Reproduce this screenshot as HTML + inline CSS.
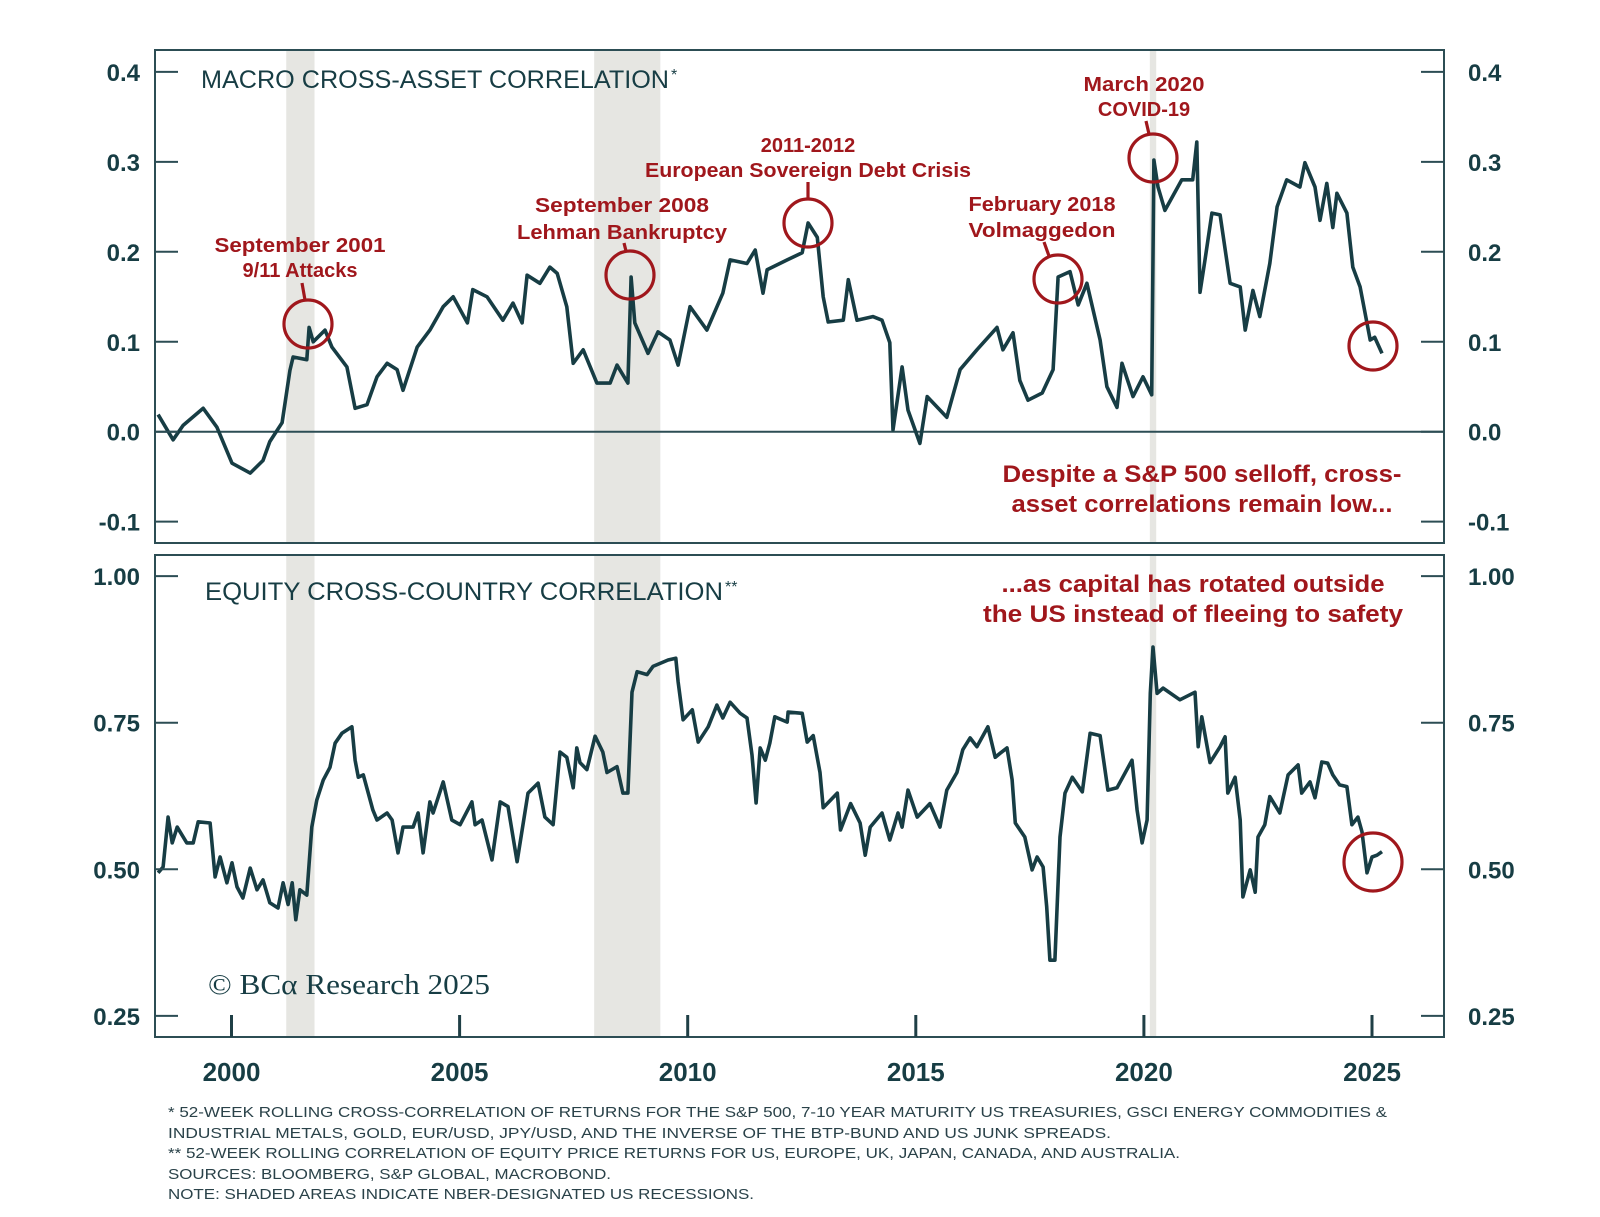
<!DOCTYPE html>
<html><head><meta charset="utf-8"><style>
html,body{margin:0;padding:0;background:#fff;}
svg{display:block;font-family:"Liberation Sans",sans-serif;}
</style></head><body>
<svg id="chart" width="1600" height="1217" viewBox="0 0 1600 1217" xmlns="http://www.w3.org/2000/svg">
<g id="layer-bg"></g>
<g id="layer-lines"></g>
<g id="layer-frame"></g>
<g id="layer-text"></g>
</svg>
<script>
// ---- data ----
const recessionStarts = [2001.2, 2007.95, 2020.13];
const recessionEnds = [2001.82, 2009.4, 2020.27];
const topYears = [1998.39,1998.72,1998.94,1999.38,1999.68,2000.01,2000.41,2000.69,2000.84,2001.11,2001.28,2001.35,2001.65,2001.70,2001.79,2002.05,2002.20,2002.53,2002.71,2002.97,2003.19,2003.41,2003.63,2003.76,2004.07,2004.35,2004.64,2004.86,2005.17,2005.29,2005.60,2005.95,2006.17,2006.37,2006.48,2006.76,2006.98,2007.14,2007.35,2007.49,2007.71,2008.01,2008.30,2008.45,2008.69,2008.76,2008.84,2009.13,2009.35,2009.61,2009.79,2010.05,2010.42,2010.77,2010.93,2011.30,2011.48,2011.65,2011.74,2012.18,2012.51,2012.64,2012.84,2012.97,2013.08,2013.41,2013.52,2013.71,2014.06,2014.26,2014.43,2014.50,2014.70,2014.83,2015.09,2015.25,2015.68,2015.97,2016.34,2016.78,2016.91,2017.13,2017.28,2017.46,2017.77,2018.01,2018.12,2018.38,2018.56,2018.75,2019.04,2019.19,2019.41,2019.52,2019.76,2019.98,2020.17,2020.22,2020.31,2020.46,2020.83,2021.07,2021.16,2021.23,2021.34,2021.49,2021.67,2021.89,2022.11,2022.22,2022.39,2022.54,2022.76,2022.92,2023.13,2023.42,2023.53,2023.75,2023.86,2024.01,2024.14,2024.23,2024.45,2024.58,2024.74,2024.96,2025.06,2025.22];
const topValues = [.019,-.009,.007,.026,.005,-.035,-.046,-.032,-.011,.010,.068,.083,.080,.116,.100,.113,.094,.072,.026,.030,.061,.076,.069,.046,.094,.113,.139,.150,.121,.158,.150,.124,.143,.121,.174,.165,.183,.176,.139,.076,.091,.054,.054,.074,.054,.172,.121,.087,.111,.102,.074,.139,.113,.154,.191,.187,.202,.154,.180,.191,.199,.232,.216,.150,.122,.124,.169,.124,.128,.124,.099,.002,.072,.024,-.013,.039,.016,.069,.091,.116,.091,.110,.057,.035,.043,.069,.172,.178,.141,.165,.102,.050,.027,.076,.039,.061,.041,.302,.272,.246,.280,.280,.322,.155,.191,.243,.241,.165,.161,.113,.157,.128,.187,.250,.280,.272,.299,.272,.235,.276,.227,.265,.243,.183,.161,.102,.105,.087];
const bottomYears = [1998.39,1998.50,1998.61,1998.70,1998.81,1999.02,1999.16,1999.27,1999.53,1999.64,1999.75,1999.90,2000.01,2000.12,2000.25,2000.41,2000.56,2000.69,2000.84,2001.02,2001.13,2001.24,2001.33,2001.41,2001.50,2001.65,2001.76,2001.87,2002.01,2002.16,2002.27,2002.42,2002.64,2002.71,2002.78,2002.89,2003.10,2003.19,2003.41,2003.52,2003.65,2003.76,2003.98,2004.09,2004.20,2004.35,2004.42,2004.64,2004.83,2005.01,2005.27,2005.34,2005.49,2005.71,2005.89,2006.06,2006.26,2006.50,2006.72,2006.87,2007.05,2007.20,2007.35,2007.49,2007.57,2007.64,2007.79,2007.97,2008.14,2008.23,2008.45,2008.58,2008.69,2008.78,2008.89,2009.11,2009.24,2009.57,2009.74,2009.79,2009.90,2010.10,2010.23,2010.45,2010.64,2010.77,2010.93,2011.15,2011.30,2011.41,2011.50,2011.59,2011.70,2011.80,2011.91,2012.18,2012.20,2012.51,2012.62,2012.75,2012.90,2012.97,2013.28,2013.35,2013.57,2013.78,2013.89,2014.00,2014.26,2014.43,2014.61,2014.70,2014.83,2015.03,2015.31,2015.53,2015.68,2015.90,2016.03,2016.19,2016.34,2016.58,2016.74,2016.85,2017.00,2017.11,2017.18,2017.39,2017.55,2017.66,2017.79,2017.87,2017.94,2018.05,2018.16,2018.27,2018.43,2018.65,2018.82,2019.04,2019.21,2019.41,2019.74,2019.85,2019.96,2020.07,2020.14,2020.20,2020.29,2020.42,2020.79,2021.12,2021.19,2021.27,2021.45,2021.67,2021.78,2021.84,2022.00,2022.11,2022.17,2022.33,2022.44,2022.50,2022.65,2022.76,2022.98,2023.16,2023.38,2023.46,2023.64,2023.75,2023.90,2024.03,2024.14,2024.29,2024.45,2024.56,2024.69,2024.78,2024.89,2025.00,2025.11,2025.22];
const bottomValues = [.494,.504,.589,.545,.572,.545,.545,.581,.579,.487,.521,.477,.511,.470,.451,.502,.465,.482,.443,.434,.477,.440,.477,.414,.465,.456,.572,.618,.652,.674,.715,.732,.743,.686,.657,.661,.601,.584,.596,.584,.528,.572,.572,.596,.528,.615,.596,.649,.584,.576,.615,.576,.584,.516,.615,.607,.513,.630,.647,.589,.576,.700,.691,.639,.707,.682,.670,.727,.700,.665,.675,.630,.630,.802,.837,.832,.846,.857,.860,.820,.755,.772,.717,.743,.780,.758,.785,.766,.758,.695,.613,.707,.686,.715,.760,.751,.768,.766,.717,.728,.665,.605,.630,.567,.612,.579,.524,.572,.596,.550,.596,.572,.635,.589,.612,.572,.635,.665,.704,.724,.709,.743,.691,.698,.707,.653,.579,.555,.499,.521,.504,.436,.345,.345,.555,.630,.657,.632,.732,.728,.635,.639,.686,.601,.545,.584,.800,.879,.800,.809,.789,.802,.709,.760,.682,.709,.726,.630,.657,.584,.453,.499,.461,.555,.576,.624,.596,.661,.678,.630,.649,.622,.683,.681,.661,.644,.641,.576,.589,.564,.494,.521,.524,.530];
const topTicks = [0.4,0.3,0.2,0.1,0.0,-0.1];
const topTickLabels = ["0.4","0.3","0.2","0.1","0.0","-0.1"];
const bottomTicks = [1.00,0.75,0.50,0.25];
const bottomTickLabels = ["1.00","0.75","0.50","0.25"];
const xTicks = [2000,2005,2010,2015,2020,2025];
const xTickLabels = ["2000","2005","2010","2015","2020","2025"];

// ---- scales ----
const X0 = 155, X1 = 1444;
const TOP = {y0: 50, y1: 543}, BOT = {y0: 555, y1: 1037};
function xs(yr){ return 231.5 + (yr - 2000) * 45.62; }
function ysTop(v){ return 431.7 - 899.5 * v; }
function ysBot(v){ return 869.3 - (v - 0.5) * 586.4; }

const NS = "http://www.w3.org/2000/svg";
function mk(tag, attrs, parent, text){
  const e = document.createElementNS(NS, tag);
  for (const k in attrs) e.setAttribute(k, attrs[k]);
  if (text !== undefined) e.textContent = text;
  parent.appendChild(e);
  return e;
}
const bg = document.getElementById('layer-bg');
const ln = document.getElementById('layer-lines');
const fr = document.getElementById('layer-frame');
const tx = document.getElementById('layer-text');
const DARK = "#173d44", RED = "#a0171c";

// recessions
recessionStarts.forEach((s, i) => {
  [TOP, BOT].forEach((p, j) => {
    const r = mk('rect', {x: xs(s), y: p.y0, width: xs(recessionEnds[i]) - xs(s), height: p.y1 - p.y0, fill: "#e6e6e2"}, bg);
    
    
  });
});

// zero line
const zl = mk('line', {x1: X0, x2: X1, y1: ysTop(0), y2: ysTop(0), stroke: "#2c4d54", "stroke-width": 2}, bg);



// series
function path(years, vals, ys){
  return years.map((y, i) => (i ? "L" : "M") + xs(y).toFixed(1) + "," + ys(vals[i]).toFixed(1)).join(" ");
}
const p1 = mk('path', {d: path(topYears, topValues, ysTop), fill: "none", stroke: DARK, "stroke-width": 3.6, "stroke-linejoin": "round"}, ln);


const p2 = mk('path', {d: path(bottomYears, bottomValues, ysBot), fill: "none", stroke: DARK, "stroke-width": 3.6, "stroke-linejoin": "round"}, ln);



// frames
[TOP, BOT].forEach((p, j) => {
  const f = mk('rect', {x: X0, y: p.y0, width: X1 - X0, height: p.y1 - p.y0, fill: "none", stroke: "#2c4d54", "stroke-width": 2}, fr);
  
  
});

// y ticks
function yAxis(ticks, labels, ys, name){
  ticks.forEach((t, i) => {
    const y = ys(t);
    mk('line', {x1: X0, x2: X0 + 23, y1: y, y2: y, stroke: "#2c4d54", "stroke-width": 2}, fr);
    mk('line', {x1: X1 - 23, x2: X1, y1: y, y2: y, stroke: "#2c4d54", "stroke-width": 2}, fr);
    const l = mk('text', {x: 140, y: y + 9, "text-anchor": "end", "font-size": 24, "font-weight": "bold", fill: DARK}, tx, labels[i]);
    
    
    const r = mk('text', {x: 1468, y: y + 9, "text-anchor": "start", "font-size": 24, "font-weight": "bold", fill: DARK}, tx, labels[i]);
    
    
  });
}
yAxis(topTicks, topTickLabels, ysTop, 'top-y-tick');
yAxis(bottomTicks, bottomTickLabels, ysBot, 'bottom-y-tick');

// x ticks
xTicks.forEach((t, i) => {
  const x = xs(t);
  mk('line', {x1: x, x2: x, y1: BOT.y1, y2: BOT.y1 - 22, stroke: "#1f3f46", "stroke-width": 3}, fr);
  const l = mk('text', {x: x, y: 1081, "text-anchor": "middle", "font-size": 26, "font-weight": "bold", fill: DARK}, tx, xTickLabels[i]);
  
  
});
</script>

<svg style="position:absolute;left:0;top:0" width="1600" height="1217" viewBox="0 0 1600 1217" xmlns="http://www.w3.org/2000/svg" font-family="Liberation Sans, sans-serif">
  <text x="201" y="88" font-size="25" fill="#173d44" textLength="468" lengthAdjust="spacingAndGlyphs">MACRO CROSS-ASSET CORRELATION</text>
  <text x="671" y="80" font-size="16" fill="#173d44">*</text>
  <text x="205" y="600" font-size="25" fill="#173d44" textLength="518" lengthAdjust="spacingAndGlyphs">EQUITY CROSS-COUNTRY CORRELATION</text>
  <text x="725" y="592" font-size="16" fill="#173d44">**</text>

  <g fill="#a0171c" font-weight="bold" font-size="20" text-anchor="middle">
    <text x="300" y="252" textLength="171" lengthAdjust="spacingAndGlyphs">September 2001</text>
    <text x="300" y="277">9/11 Attacks</text>
    <text x="622" y="212" textLength="174" lengthAdjust="spacingAndGlyphs">September 2008</text>
    <text x="622" y="239" textLength="210" lengthAdjust="spacingAndGlyphs">Lehman Bankruptcy</text>
    <text x="808" y="152">2011-2012</text>
    <text x="808" y="177" textLength="326" lengthAdjust="spacingAndGlyphs">European Sovereign Debt Crisis</text>
    <text x="1042" y="211" textLength="147" lengthAdjust="spacingAndGlyphs">February 2018</text>
    <text x="1042" y="237" textLength="147" lengthAdjust="spacingAndGlyphs">Volmaggedon</text>
    <text x="1144" y="91" textLength="121" lengthAdjust="spacingAndGlyphs">March 2020</text>
    <text x="1144" y="116">COVID-19</text>
  </g>
  <g fill="none" stroke="#a0171c" stroke-width="3.2">
    <circle cx="308" cy="324" r="24"/>
    <line x1="302" y1="283" x2="305" y2="300"/>
    <circle cx="630" cy="275" r="24"/>
    <line x1="624" y1="243" x2="626" y2="251"/>
    <circle cx="808" cy="223" r="24"/>
    <line x1="808" y1="182" x2="808" y2="199"/>
    <circle cx="1058" cy="279" r="24"/>
    <line x1="1044" y1="242" x2="1049" y2="256"/>
    <circle cx="1153" cy="158" r="24"/>
    <line x1="1146" y1="121" x2="1149" y2="134"/>
    <circle cx="1373" cy="346" r="24"/>
    <circle cx="1373" cy="862" r="29"/>
  </g>
  <g fill="#a0171c" font-size="24" font-weight="bold" text-anchor="middle">
    <text x="1202" y="482" textLength="399" lengthAdjust="spacingAndGlyphs">Despite a S&amp;P 500 selloff, cross-</text>
    <text x="1202" y="512" textLength="381" lengthAdjust="spacingAndGlyphs">asset correlations remain low...</text>
    <text x="1193" y="592" textLength="383" lengthAdjust="spacingAndGlyphs">...as capital has rotated outside</text>
    <text x="1193" y="622" textLength="420" lengthAdjust="spacingAndGlyphs">the US instead of fleeing to safety</text>
  </g>
  <text x="208" y="994" font-family="Liberation Serif, serif" font-size="29" fill="#173d44" textLength="282" lengthAdjust="spacingAndGlyphs">© BCα Research 2025</text>
  <g fill="#2a4249" font-size="15">
    <text x="168" y="1117" textLength="1219" lengthAdjust="spacingAndGlyphs">* 52-WEEK ROLLING CROSS-CORRELATION OF RETURNS FOR THE S&amp;P 500, 7-10 YEAR MATURITY US TREASURIES, GSCI ENERGY COMMODITIES &amp;</text>
    <text x="168" y="1138" textLength="943" lengthAdjust="spacingAndGlyphs">INDUSTRIAL METALS, GOLD, EUR/USD, JPY/USD, AND THE INVERSE OF THE BTP-BUND AND US JUNK SPREADS.</text>
    <text x="168" y="1158" textLength="1012" lengthAdjust="spacingAndGlyphs">** 52-WEEK ROLLING CORRELATION OF EQUITY PRICE RETURNS FOR US, EUROPE, UK, JAPAN, CANADA, AND AUSTRALIA.</text>
    <text x="168" y="1179" textLength="443" lengthAdjust="spacingAndGlyphs">SOURCES: BLOOMBERG, S&amp;P GLOBAL, MACROBOND.</text>
    <text x="168" y="1199" textLength="586" lengthAdjust="spacingAndGlyphs">NOTE: SHADED AREAS INDICATE NBER-DESIGNATED US RECESSIONS.</text>
  </g>
</svg>
</body></html>
